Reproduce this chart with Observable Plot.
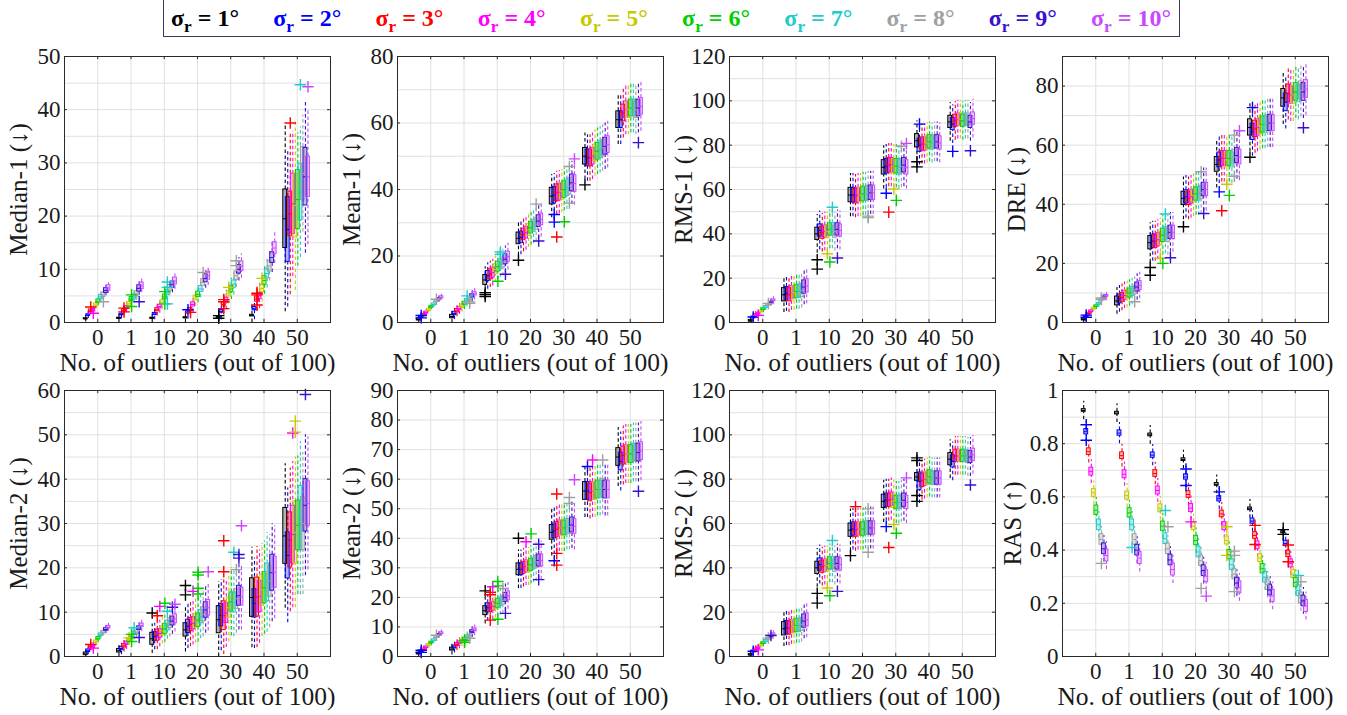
<!DOCTYPE html>
<html><head><meta charset="utf-8">
<script src="https://cdn.jsdelivr.net/npm/d3@7"></script>
<script src="https://cdn.jsdelivr.net/npm/@observablehq/plot@0.6"></script>
<style>
html,body{margin:0;padding:0;background:#fff;}
#root{position:relative;width:1347px;height:715px;overflow:hidden;font-family:'Liberation Serif','Times New Roman',serif;}
.panel{position:absolute;}
.panel svg{overflow:visible;}
.panel svg, .panel svg text{font-family:'Liberation Serif','Times New Roman',serif !important;}
#legend{position:absolute;left:163px;top:-1px;width:1017px;height:38px;border:1px solid #3c3c5a;box-sizing:border-box;background:#fff;display:flex;align-items:center;justify-content:space-between;padding:0 8px 0 7px;font-weight:bold;font-size:24px;}
#legend .item{white-space:nowrap;}
#legend sub{font-size:0.72em;vertical-align:-0.32em;line-height:0;}
</style>
</head>
<body>
<div id="root"><div id="legend"></div></div>
<script>
// ---------- categories ----------
const groupLabels = ["0","1","10","20","30","40","50"];
const sigmaDeg = [1,2,3,4,5,6,7,8,9,10];
const sigmaColors = ["#000000","#0000ff","#ff0000","#ff00ff","#c8c800","#00d000","#20cccc","#a0a0a0","#3a10d0","#c848ff"];
const panelLabels = ["Median-1 (↓)","Mean-1 (↓)","RMS-1 (↓)","DRE (↓)","Median-2 (↓)","Mean-2 (↓)","RMS-2 (↓)","RAS (↑)"];
const yMax   = [50, 80, 120, 90, 60, 90, 120, 1];
const yMajor = [10, 20, 20, 20, 10, 10, 20, 0.2];
const yMinor = [5, 10, 10, 10, 5, 10, 10, 0.1];
const yLabelMax = [50, 80, 120, 80, 60, 90, 120, 1];

// ---------- Median-1 ----------
const median1Med = [
 [0.7,1.4,2.2,2.3,3.3,4.0,4.8,5.2,6.0,6.5],
 [0.8,1.5,2.3,2.8,3.5,4.4,4.8,5.4,6.4,6.9],
 [0.8,1.6,2.4,3.0,3.8,4.8,5.6,6.5,7.1,7.8],
 [0.9,1.9,2.4,3.4,4.6,5.3,6.3,7.5,8.3,8.8],
 [0.9,2.1,3.4,4.2,5.4,6.3,7.2,8.8,10.0,10.6],
 [1.3,2.6,4.4,5.0,6.4,7.9,9.2,10.6,12.2,14.0],
 [19.5,17.5,20.4,22.3,22.0,23.1,24.5,28.0,27.4,27.4]];
const median1Iqr = [
 [0.2,0.3,0.5,0.5,0.6,0.7,0.8,0.9,0.9,1.0],
 [0.2,0.3,0.5,0.6,0.7,0.8,0.9,1.0,1.2,1.2],
 [0.2,0.4,0.6,0.7,0.8,0.9,1.0,1.1,1.2,1.3],
 [0.2,0.4,0.6,0.8,0.9,1.0,1.1,1.3,1.5,1.5],
 [0.3,0.5,0.8,0.9,1.0,1.2,1.4,1.6,1.6,1.8],
 [0.3,0.6,1.0,1.2,1.4,1.6,1.8,2.0,2.0,2.2],
 [11,12.2,8.4,11.3,12,11.1,10.6,10,10.8,7.6]];
const median1Whisker = [0.5,0.7,0.9,1.1,1.4,1.8,[12,8.5,11,8,10,7,7,6,9,9]];
const median1Outliers = [[0,3,2.9],[0,4,1.75],[0,8,3.9],[1,3,2.7],[1,3,2.0],[1,6,5.2],[1,6,3.0],[1,9,3.9],
 [2,6,5.8],[2,6,3.5],[2,7,7.6],[2,7,6.6],[2,7,3.5],[3,2,2.4],[3,3,1.9],[3,8,9.4],
 [4,1,1.3],[4,1,0.8],[4,3,4.3],[4,3,3.9],[4,3,2.6],[4,5,6.6],[4,8,11.6],[4,8,10.7],
 [5,3,5.5],[5,3,5.2],[5,3,3.3],[5,5,8.3],[6,3,37.5],[6,7,44.7],[6,10,44.3]];

// ---------- Mean-1 ----------
const mean1Med = [
 [0.9,1.7,2.3,3.0,3.8,4.7,5.4,6.4,7.0,7.6],
 [1.8,2.7,3.5,4.2,4.9,5.7,6.5,7.0,8.0,8.6],
 [12.8,14.0,14.5,15.0,16.0,16.8,17.5,18.0,19.0,19.8],
 [25.3,25.6,26.5,27.0,27.8,28.5,29.0,29.6,30.5,31.0],
 [38.0,38.3,39.0,39.2,39.5,40.0,40.5,41.0,42.0,41.8],
 [50.0,49.5,49.5,50.0,51.0,51.5,52.0,52.5,53.0,53.5],
 [61.0,61.0,63.0,64.0,64.0,64.5,64.5,64.0,64.5,65.0]];
const mean1Iqr = [0.6,1.0,3,3.5,5,5,5];
const mean1Whisker = [0.6,1.3,2.5,3.5,4,4.5,5];
const mean1Outliers = [[0,2,2.1],[0,2,1.4],[0,8,7.0],[1,7,8.0],[1,8,5.8],[1,8,6.2],
 [2,1,9.0],[2,1,8.4],[2,1,7.8],[2,6,12.4],[2,7,21.2],[2,7,20.5],[2,9,14.5],
 [3,1,18.7],[3,8,35.6],[3,9,24.5],[4,2,32.5],[4,2,30.2],[4,3,25.7],[4,6,30.3],[4,8,46.9],[4,8,35.9],[4,10,49.2],
 [5,1,41.4],[6,9,54.1]];

// ---------- RMS-1 ----------
const rms1Med = [
 [0.8,2.3,3.3,4.0,5.0,6.0,7.0,8.0,9.0,10.0],
 [12.5,13.0,12.5,13.5,13.5,14.0,14.0,14.5,16.0,16.5],
 [40.0,41.5,40.5,41.0,41.0,42.0,42.0,41.0,42.0,41.5],
 [57.5,57.5,57.0,57.5,57.5,58.0,58.0,58.5,58.5,58.5],
 [70.0,70.5,71.0,71.0,70.5,70.5,70.0,70.5,71.0,70.0],
 [82.0,80.0,80.5,80.5,81.0,81.5,81.0,81.5,81.5,81.0],
 [90.5,89.5,91.0,91.5,91.5,91.0,91.5,91.5,90.5,92.0]];
const rms1Iqr = [0.8,6,5.5,6.5,6.5,6,5.5];
const rms1Whisker = [1.2,5,6,6.5,6.5,6,6];
const rms1Outliers = [[0,2,2.5],[0,4,3.2],[0,8,8.6],
 [2,1,28.3],[2,1,24.1],[2,5,31],[2,6,27.3],[2,7,52],[2,9,29.1],[3,8,48],[3,8,47.3],
 [4,2,58.3],[4,3,49.8],[4,5,60.2],[4,6,55.1],[4,8,79.5],[4,10,80.8],
 [5,1,72.5],[5,1,70.2],[5,2,89.5],[6,2,77.2],[6,9,77.5]];

// ---------- DRE ----------
const dreMed = [
 [1.0,2.0,3.0,3.8,4.7,5.5,6.3,7.5,8.5,9.0],
 [7.3,8.0,8.5,9.2,9.5,10.0,10.5,11.0,12.0,12.5],
 [27.0,27.5,27.5,28.0,28.5,29.5,30.0,29.5,30.5,30.5],
 [42.0,42.5,42.0,42.5,43.0,43.5,43.5,44.0,45.0,45.0],
 [53.5,55.0,55.5,55.5,55.0,55.5,55.0,56.0,56.5,56.0],
 [66.0,64.5,65.5,66.0,66.5,67.0,67.0,67.5,67.5,67.5],
 [76.0,74.5,77.5,77.0,77.0,78.0,77.5,78.5,78.0,79.0]];
const dreIqr = [0.6,3,4.5,4.5,5,5.5,6];
const dreWhisker = [0.8,3,4.5,5,5.5,5.5,6];
const dreOutliers = [[0,2,2.5],[0,2,1.8],[0,8,8.3],[0,8,7.8],[1,8,7.0],
 [2,1,18.6],[2,1,16.0],[2,5,21.7],[2,6,20.0],[2,7,36.7],[2,9,21.9],
 [3,1,32.4],[3,8,51],[3,9,36.9],[4,2,44.2],[4,3,37.8],[4,5,46.8],[4,6,43.0],[4,8,63.4],[4,8,49.5],[4,10,64.9],
 [5,1,55.9],[5,2,72.7],[6,9,65.9]];

// ---------- Median-2 ----------
const median2Med = [
 [0.6,1.3,2.3,2.2,3.3,4.1,4.9,5.5,6.1,6.6],
 [1.3,1.8,2.4,3.0,3.8,4.4,5.2,5.5,6.4,7.0],
 [4.0,4.5,4.8,5.2,5.8,6.2,7.0,7.5,8.0,8.5],
 [6.0,6.8,7.2,7.5,8.0,8.2,9.0,9.5,10.5,11.0],
 [8.3,9.3,9.2,9.8,11.0,12.3,12.2,13.0,13.7,13.5],
 [13.3,12.0,13.4,13.5,15.0,15.5,16.7,17.0,18.9,19.0],
 [27.2,22.8,26.3,27.5,28.0,29.6,31.2,30.0,34.1,34.5]];
const median2Iqr = [0.6,0.8,
 [2.7,2.0,2.5,2.0,2.0,2.2,2.2,2.2,2.0,2.0],
 [3.0,3.0,3.0,2.8,3.0,3.0,3.0,3.2,3.5,3.5],
 [6.1,5.0,6.5,4.5,4.5,4.3,4.5,4.5,4.5,4.0],
 [8.7,6.4,8.8,7,7,7,8.5,7,8.1,7],
 [12.6,10.4,12.4,13,14,11.2,14.6,12,11.8,10]];
const median2Whisker = [0.6,1,2,3.5,5.5,7,10];
const median2Outliers = [[0,3,2.7],[0,4,1.9],[1,5,4.2],[1,6,5.0],[1,6,3.4],[1,7,6.5],[1,9,4.3],
 [2,1,9.8],[2,3,9.2],[2,4,11.3],[2,6,12.0],[2,7,10.2],[2,9,11.1],[2,10,11.8],
 [3,1,16.0],[3,1,13.9],[3,4,14.7],[3,6,19.0],[3,6,18.4],[3,6,15.4],[3,6,14.1],[3,10,19.1],
 [4,3,26.1],[4,3,19.1],[4,7,23.5],[4,8,19.6],[4,9,23.0],[4,9,22.2],[4,10,29.5],
 [6,4,50.4],[6,5,53.1],[6,5,50.6],[6,9,59.1]];

// ---------- Mean-2 ----------
const mean2Med = [
 [1.0,1.8,2.4,3.1,3.9,4.7,5.5,6.5,7.3,7.9],
 [2.5,3.2,4.0,4.6,5.2,5.8,6.6,7.0,8.4,9.0],
 [15.5,16.5,16.5,17.0,17.5,18.0,18.5,19.0,20.0,20.5],
 [29.5,29.5,30.0,30.5,30.5,31.0,31.5,32.0,32.5,32.5],
 [42.0,42.5,43.0,43.5,43.5,43.5,44.0,44.0,44.5,44.0],
 [56.0,56.0,55.5,56.0,56.0,56.5,56.5,57.0,56.5,56.5],
 [67.5,66.0,68.0,68.5,68.5,68.5,69.0,69.0,69.0,69.5]];
const mean2Iqr = [0.6,1.0,3,4,5,6,6];
const mean2Whisker = [0.8,1.5,3,4.5,5.5,6,7];
const mean2Outliers = [[0,2,2.1],[0,2,1.4],[0,8,7.2],[1,6,4.8],[1,6,5.5],[1,8,6.2],
 [2,1,22.2],[2,3,21.7],[2,3,20.9],[2,3,12.3],[2,4,23.6],[2,6,25.4],[2,6,23.9],[2,6,12.6],[2,8,23.0],[2,9,14.6],
 [3,1,40.0],[3,4,38.8],[3,6,41.5],[3,9,38.0],[3,9,26.0],
 [4,2,32.4],[4,3,55.0],[4,3,34.9],[4,3,30.9],[4,8,53.8],[4,8,51.8],[4,10,59.8],
 [5,2,64.3],[5,4,66.5],[5,8,66.5],[6,9,55.9]];

// ---------- RMS-2 ----------
const rms2Med = [
 [0.8,2.3,3.2,3.8,5.0,6.0,7.0,8.0,9.0,10.0],
 [12.5,13.0,12.8,13.5,13.5,14.0,14.0,14.5,16.0,16.5],
 [40.0,41.5,40.5,41.0,41.0,42.0,42.0,41.0,42.0,41.5],
 [57.0,57.5,57.0,57.5,57.5,57.5,58.0,58.0,58.0,58.0],
 [70.0,70.5,70.5,71.0,70.0,69.5,69.5,70.0,70.5,69.5],
 [81.0,79.0,79.5,80.0,80.5,81.0,80.5,80.5,80.5,80.5],
 [89.0,88.0,90.5,90.5,90.5,90.5,90.5,90.0,90.0,91.0]];
const rms2Iqr = [0.8,6,5.5,6,6,[3.5,8,6,6,6,6,6,6,6,6],5.5];
const rms2Whisker = [1.2,5,6,6.5,6.5,6,6];
const rms2Outliers = [[0,2,2.4],[0,4,3.0],[0,8,8.3],[0,9,9.5],
 [2,1,28.5],[2,1,24.1],[2,5,30.9],[2,6,27.4],[2,7,52.3],[2,9,29.4],
 [3,1,45.5],[3,3,67.6],[3,8,66.6],[3,8,47.0],
 [4,2,58.6],[4,3,49.2],[4,5,59.5],[4,6,55.6],[4,10,80.6],
 [5,1,89.6],[5,1,88.4],[5,1,72.6],[5,1,70.0],[6,9,77.4]];

// ---------- RAS ----------
const rasMed = [
 [0.925,0.845,0.77,0.695,0.615,0.55,0.495,0.44,0.405,0.38],
 [0.915,0.84,0.755,0.685,0.605,0.54,0.495,0.44,0.40,0.37],
 [0.833,0.757,0.688,0.624,0.557,0.49,0.443,0.405,0.363,0.327],
 [0.74,0.675,0.609,0.558,0.49,0.436,0.393,0.36,0.323,0.302],
 [0.647,0.593,0.536,0.49,0.436,0.383,0.345,0.31,0.276,0.26],
 [0.555,0.509,0.455,0.418,0.37,0.33,0.298,0.27,0.25,0.228],
 [0.468,0.425,0.386,0.35,0.31,0.278,0.248,0.22,0.209,0.19]];
const rasIqrBySigma = [0.01,0.02,0.025,0.03,0.03,0.035,0.04,0.04,0.04,0.045];
const rasIqr = [rasIqrBySigma,rasIqrBySigma,rasIqrBySigma,rasIqrBySigma,rasIqrBySigma,rasIqrBySigma,rasIqrBySigma];
const rasWhisker = [0.03,0.03,0.03,0.03,0.03,0.03,0.03];
const rasOutliers = [[0,2,0.871],[0,2,0.813],[0,8,0.35],[1,7,0.41],[2,7,0.549],[2,8,0.488],
 [3,2,0.705],[3,2,0.643],[3,4,0.506],[3,8,0.256],[3,10,0.227],
 [4,2,0.619],[4,5,0.488],[4,5,0.38],[4,8,0.396],[4,8,0.38],[4,8,0.244],
 [5,3,0.493],[5,3,0.421],[6,1,0.477],[6,1,0.459],[6,3,0.419],[6,3,0.356],[6,7,0.305],[6,8,0.281]];

const allMed = [median1Med, mean1Med, rms1Med, dreMed, median2Med, mean2Med, rms2Med, rasMed];
const allIqr = [median1Iqr, mean1Iqr, rms1Iqr, dreIqr, median2Iqr, mean2Iqr, rms2Iqr, rasIqr];
const allWh  = [median1Whisker, mean1Whisker, rms1Whisker, dreWhisker, median2Whisker, mean2Whisker, rms2Whisker, rasWhisker];
const allOut = [median1Outliers, mean1Outliers, rms1Outliers, dreOutliers, median2Outliers, mean2Outliers, rms2Outliers, rasOutliers];

// ---------- legend ----------
const legend = document.getElementById("legend");
sigmaDeg.forEach((s, i) => {
  const el = document.createElement("span");
  el.className = "item";
  el.style.color = sigmaColors[i];
  el.innerHTML = `σ<sub>r</sub> = ${s}°`;
  legend.appendChild(el);
});

// ---------- panels ----------
const pick = (a, k) => Array.isArray(a) ? a[k] : a;
const xPos = (g, k) => g + 1 + (k - 4.5) * 0.076 - 0.02;
const halfW = 0.058;
const panelLeft = [64, 397, 729, 1062];
const rowTop = [56, 390];
const areaW = 266, areaH = 266;
const mL = 64, mR = 10, mT = 16, mB = 56;
const root = document.getElementById("root");
const fmt = d3.format("~g");
const serif = "'Liberation Serif','Times New Roman',serif";
const xTicks = [1,2,3,4,5,6,7];

for (let p = 0; p < 8; p++) {
  const med = allMed[p], iqr = allIqr[p], wh = allWh[p];
  const boxes = [];
  for (let k = 0; k < 10; k++) for (let g = 0; g < 7; g++) {
    const m = med[g][k], h = pick(iqr[g], k) / 2, w = pick(wh[g], k);
    const x = xPos(g, k);
    boxes.push({x, x1: x - halfW, x2: x + halfW, med: m, q1: m - h, q3: m + h,
      lo: Math.max(0, m - h - w), hi: m + h + w, color: sigmaColors[k]});
  }
  const outs = allOut[p].map(([g, k, v]) => ({x: xPos(g, k - 1), y: v, color: sigmaColors[k - 1]}));
  const step = yMinor[p];
  const top = yMax[p];
  const gridVals = d3.range(0, Math.round(top / step) + 1).map(i => +(i * step).toFixed(3));
  const majVals = d3.range(0, Math.round(yLabelMax[p] / yMajor[p]) + 1).map(i => +(i * yMajor[p]).toFixed(3));
  const tickLenX = 0.09, tickLenY = top * 0.012;
  const chart = Plot.plot({
    width: mL + areaW + mR, height: mT + areaH + mB,
    marginLeft: mL, marginRight: mR, marginTop: mT, marginBottom: mB,
    style: {background: "transparent", fontFamily: serif, fontSize: "23px", color: "#1a1a1a", overflow: "visible"},
    color: {type: "identity"},
    x: {domain: [0, 8], ticks: xTicks, tickFormat: i => groupLabels[i - 1], tickSize: 0, tickPadding: 6, label: null},
    y: {domain: [0, top], ticks: majVals, tickFormat: fmt, tickSize: 0, tickPadding: 4, label: null},
    marks: [
      Plot.ruleY(gridVals, {stroke: "#e0e0e0", strokeWidth: 1}),
      Plot.ruleX(xTicks, {stroke: "#e0e0e0", strokeWidth: 1}),
      // inward tick marks (MATLAB style box axes)
      Plot.ruleY(majVals, {x1: 0, x2: tickLenX, stroke: "#2a2a2a"}),
      Plot.ruleY(majVals, {x1: 8 - tickLenX, x2: 8, stroke: "#2a2a2a"}),
      Plot.ruleX(xTicks, {y1: 0, y2: tickLenY, stroke: "#2a2a2a"}),
      Plot.ruleX(xTicks, {y1: top - tickLenY, y2: top, stroke: "#2a2a2a"}),
      Plot.ruleX(boxes, {x: "x", y1: "lo", y2: "q1", stroke: "color", strokeDasharray: "3.5,2.5", strokeWidth: 1.1}),
      Plot.ruleX(boxes, {x: "x", y1: "q3", y2: "hi", stroke: "color", strokeDasharray: "3.5,2.5", strokeWidth: 1.1}),
      Plot.rect(boxes, {x1: "x1", x2: "x2", y1: "q1", y2: "q3", fill: "color", fillOpacity: 0.3}),
      Plot.rect(boxes, {x1: "x1", x2: "x2", y1: "q1", y2: "q3", stroke: "color", fill: "none", strokeWidth: 1}),
      Plot.ruleY(boxes, {y: "med", x1: "x1", x2: "x2", stroke: "color", strokeWidth: 1}),
      Plot.dot(outs, {x: "x", y: "y", symbol: "plus", stroke: "color", r: 3.8, strokeWidth: 1.4}),
      Plot.frame({stroke: "#2a2a2a", strokeWidth: 1}),
      Plot.text([panelLabels[p]], {frameAnchor: "left", rotate: -90, dx: top < 2 ? -50 : -46, textAnchor: "middle", lineAnchor: "middle", fontSize: 25, fontFamily: serif, fill: "#1a1a1a"}),
      Plot.text(["No. of outliers (out of 100)"], {frameAnchor: "bottom", dy: 48, textAnchor: "middle", lineAnchor: "bottom", fontSize: 25.5, fontFamily: serif, fill: "#1a1a1a"})
    ]
  });
  const div = document.createElement("div");
  div.className = "panel";
  div.style.left = (panelLeft[p % 4] - mL) + "px";
  div.style.top = (rowTop[Math.floor(p / 4)] - mT) + "px";
  div.appendChild(chart);
  root.appendChild(div);
}
</script>
</body></html>
